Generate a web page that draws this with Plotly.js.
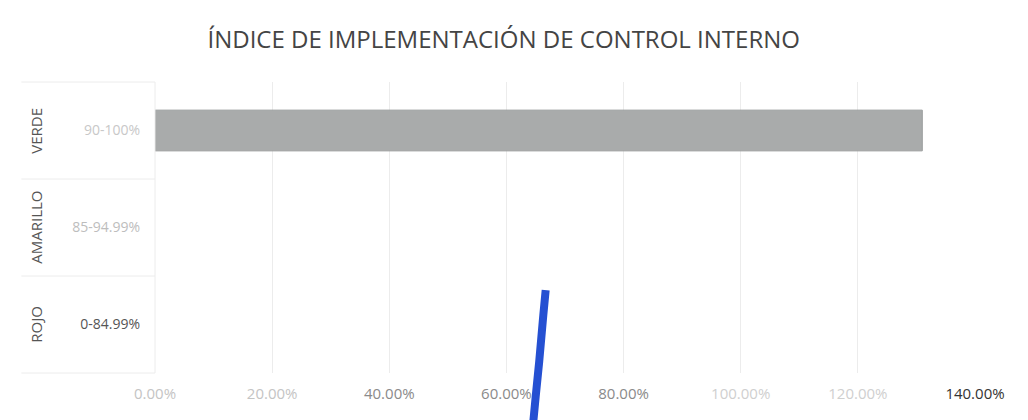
<!DOCTYPE html>
<html lang="es">
<head>
  <meta charset="UTF-8" />
  <title>Índice de implementación de control interno</title>
  <script src="https://cdn.plot.ly/plotly-3.0.1.min.js"></script>
  <style>
    body { margin: 0; background: #fff; }
    #chart { width: 1028px; height: 420px; }
  </style>
</head>
<body>
  <div id="chart"></div>
<script>
  // niveles del semáforo (de arriba a abajo)
  const levels = ["VERDE", "AMARILLO", "ROJO"];
  const ranges = ["90-100%", "85-94.99%", "0-84.99%"];
  const barValues = [131, null, null];

  const xTicks = [0, 20, 40, 60, 80, 100, 120, 140];
  const xTickLabels = ["0.00%", "20.00%", "40.00%", "60.00%", "80.00%", "100.00%", "120.00%", "140.00%"];

  // trazo azul a mano sobre el papel (x en %, y en fracción del área)
  const penX = [66.7, 66.3, 65.6, 65.0, 64.6];
  const penY = [0.285, 0.2, 0.04, -0.08, -0.165];

  // tinta desvaída del escaneo
  const xTickInk = ["#c4c4c4", "#c4c4c4", "#8a8a8a", "#8a8a8a", "#8a8a8a", "#cfcfcf", "#cfcfcf", "#333"];
  const rangeInk = ["#c8c8c8", "#bdbdbd", "#555"];

  const yText = ranges.map((r, i) => `<span style="color:${rangeInk[i]}">${r}</span>`);
  const xText = xTickLabels.map((t, i) => `<span style="color:${xTickInk[i]}">${t}</span>`);

  const trace = {
    type: "bar",
    orientation: "h",
    x: barValues,
    y: ranges,
    marker: { color: "#a9abab", line: { color: "#9a9c9c", width: 1 } },
    hoverinfo: "x+y"
  };

  let pen = "M " + penX[0] + "," + penY[0];
  for (let i = 1; i < penX.length; i++) pen += " L " + penX[i] + "," + penY[i];

  const shapes = [{
    type: "path", xref: "x", yref: "paper", path: pen,
    line: { color: "#2550d2", width: 8 }, layer: "above"
  }];
  // separadores de la etiqueta de dos niveles
  [0, 1 / 3, 2 / 3, 1].forEach(p => {
    shapes.push({ type: "line", xref: "paper", yref: "paper", x0: -0.163, x1: 0, y0: p, y1: p,
      line: { color: "#ececec", width: 1 }, layer: "below" });
  });
  shapes.push({ type: "line", xref: "paper", yref: "paper", x0: 0, x1: 0, y0: 0, y1: 1,
    line: { color: "#ececec", width: 1 } });

  const annotations = levels.map((lv, i) => ({
    xref: "paper", yref: "y", x: -0.146, xanchor: "center", y: ranges[i],
    text: lv, textangle: -90, showarrow: false,
    font: { family: "Open Sans, sans-serif", size: 15, color: "#555" }
  }));

  const layout = {
    width: 1028, height: 420,
    margin: { l: 155, r: 53, t: 82, b: 47 },
    paper_bgcolor: "#fff", plot_bgcolor: "#fff",
    title: {
      text: "ÍNDICE DE IMPLEMENTACIÓN DE CONTROL INTERNO",
      xref: "container", x: 0.49, y: 0.905, yanchor: "middle",
      font: { family: "Open Sans, sans-serif", size: 24, color: "#444" }
    },
    bargap: 0.58,
    showlegend: false,
    xaxis: {
      range: [0, 140], tickvals: xTicks, ticktext: xText,
      showgrid: true, gridcolor: "#ececec", zeroline: false, showline: false,
      ticklabelstandoff: 10,
      tickfont: { family: "Open Sans, sans-serif", size: 15 }, ticks: ""
    },
    yaxis: {
      type: "category", categoryorder: "array", categoryarray: ranges,
      autorange: "reversed", tickvals: ranges, ticktext: yText,
      showgrid: false, zeroline: false, showline: false, ticks: "",
      ticklabelstandoff: 14,
      tickfont: { family: "Open Sans, sans-serif", size: 14 }
    },
    shapes: shapes,
    annotations: annotations
  };

  Plotly.newPlot("chart", [trace], layout, { displayModeBar: false });
</script>
</body>
</html>
